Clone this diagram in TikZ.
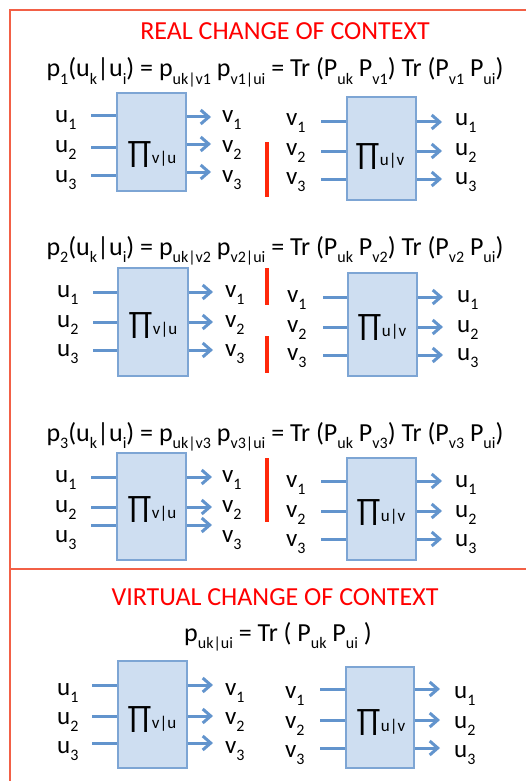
\documentclass[tikz,border=0pt]{standalone}
\usepackage{fontspec}
\setmainfont{Carlito}
\usetikzlibrary{arrows.meta}
\definecolor{framec}{RGB}{242,96,70}
\definecolor{barc}{RGB}{255,40,10}
\definecolor{titlec}{RGB}{255,0,0}
\definecolor{boxfill}{RGB}{206,222,241}
\definecolor{boxline}{RGB}{125,165,212}
\definecolor{wirec}{RGB}{98,148,205}
\newcommand\dn[1]{\raisebox{-0.3em}{\fontsize{16}{16}\selectfont #1}}
\newcommand\pisym[1]{{\fontsize{31}{31}\selectfont ∏}\raisebox{-0.05em}{\fontsize{17}{17}\selectfont #1}}
\newcommand\pbx[5]{\node[pbox, minimum width={(#4-#2)*1pt}, minimum height={(#5-#3)*1pt}] (#1) at ({(#2+#4)/2},{(#3+#5)/2}) {};}
\newcommand\wires[5]{%
  \foreach \yy [count=\k] in {#3} {\coordinate (#1in\k) at (#2,\yy); \draw[wire] (#1in\k) -- (#1in\k -| #1.west);}
  \foreach \yy [count=\k] in {#5} {\coordinate (#1out\k) at (#4,\yy); \draw[arr] (#1out\k -| #1.east) -- (#1out\k);}}
\newcommand\labs[6]{%
  \foreach \bb [count=\k] in {#6} {\node[lab] (#1a\k) at (#3,\bb) {#2\dn{\k}}; \node[lab] (#1b\k) at (#5,\bb) {#4\dn{\k}};}}
\begin{document}
\begin{tikzpicture}[x=1pt,y=-1pt,
 lab/.style={font=\fontsize{25}{29}\selectfont, inner sep=0pt, anchor=base west},
 eqn/.style={font=\fontsize{26}{30}\selectfont, inner sep=0pt, anchor=base},
 ttl/.style={font=\fontsize{26}{30}\selectfont, text=titlec, inner sep=0pt, anchor=base},
 pbox/.style={draw=boxline, fill=boxfill, line width=1.2pt, inner sep=0pt, rectangle},
 wire/.style={draw=wirec, line width=3pt},
 arr/.style={wire, -{Straight Barb[length=8pt,width=14pt]}},
 rbar/.style={draw=barc, line width=4pt},
 frame/.style={draw=framec, line width=1.3pt}]
\useasboundingbox (0,0) rectangle (526,781);
% frame
\coordinate (ftl) at (10,10); \coordinate (ftr) at (527,10); \coordinate (fbl) at (10,782);
\coordinate (sl) at (10,569); \coordinate (sr) at (527,569);
\draw[frame] (ftr) -- (ftl) -- (fbl);
\draw[frame] (sl) -- (sr);
% titles and equations
\node[ttl] (t1) at (285,40) {REAL CHANGE OF CONTEXT};
\node[eqn] (e1) at (275,77) {p\dn{1}(u\dn{k}|u\dn{i}) = p\dn{uk|v1} p\dn{v1|ui} = Tr (P\dn{uk} P\dn{v1}) Tr (P\dn{v1} P\dn{ui})};
\node[eqn] (e2) at (275,255) {p\dn{2}(u\dn{k}|u\dn{i}) = p\dn{uk|v2} p\dn{v2|ui} = Tr (P\dn{uk} P\dn{v2}) Tr (P\dn{v2} P\dn{ui})};
\node[eqn] (e3) at (275,441) {p\dn{3}(u\dn{k}|u\dn{i}) = p\dn{uk|v3} p\dn{v3|ui} = Tr (P\dn{uk} P\dn{v3}) Tr (P\dn{v3} P\dn{ui})};
\node[ttl] (t2) at (275,605) {VIRTUAL CHANGE OF CONTEXT};
\node[eqn] (e4) at (278,641) {p\dn{uk|ui} = Tr ( P\dn{uk} P\dn{ui} )};
% row 1
\pbx{L1}{117}{93}{186}{191}
\wires{L1}{91}{116,147,175}{211}{117,144,172}
\labs{L1}{u}{55}{v}{222}{122,152,182}
\node[lab] (L1pi) at (127,162) {\pisym{v|u}};
\pbx{R1}{347}{97}{416}{200}
\wires{R1}{321}{122,151,179}{442}{122,151,179}
\labs{R1}{v}{286}{u}{455}{125,155,184}
\node[lab] (R1pi) at (355,164) {\pisym{u|v}};
\coordinate (b1a) at (267,142); \coordinate (b1b) at (267,197);
\draw[rbar] (b1a) -- (b1b);
% row 2
\pbx{L2}{118}{268}{188}{376}
\wires{L2}{93}{292,322,350}{213}{292,322,350}
\labs{L2}{u}{57}{v}{225}{297,327,356}
\node[lab] (L2pi) at (128,333) {\pisym{v|u}};
\pbx{R2}{348}{273}{417}{376}
\wires{R2}{323}{297,327,355}{443}{297,327,355}
\labs{R2}{v}{287}{u}{457}{302,332,360}
\node[lab] (R2pi) at (357,335) {\pisym{u|v}};
\coordinate (b2a) at (267,268); \coordinate (b2b) at (267,305);
\coordinate (b2c) at (267,336); \coordinate (b2d) at (267,373);
\draw[rbar] (b2a) -- (b2b);
\draw[rbar] (b2c) -- (b2d);
% row 3
\pbx{L3}{117}{453}{186}{560}
\wires{L3}{91}{477,507,525}{212}{477,507,525}
\labs{L3}{u}{55}{v}{222}{482,512,542}
\node[lab] (L3pi) at (127,517) {\pisym{v|u}};
\pbx{R3}{347}{458}{416}{560}
\wires{R3}{321}{481,511,539}{442}{481,511,539}
\labs{R3}{v}{286}{u}{455}{487,517,546}
\node[lab] (R3pi) at (356,520) {\pisym{u|v}};
\coordinate (b3a) at (267,458); \coordinate (b3b) at (267,522);
\draw[rbar] (b3a) -- (b3b);
% virtual
\pbx{L4}{118}{661}{187}{768}
\wires{L4}{92}{685,716,743}{213}{685,716,743}
\labs{L4}{u}{57}{v}{225}{695,724,753}
\node[lab] (L4pi) at (127,727) {\pisym{v|u}};
\pbx{R4}{346}{667}{414}{768}
\wires{R4}{320}{689,720,748}{440}{689,720,748}
\labs{R4}{v}{285}{u}{454}{698,728,757}
\node[lab] (R4pi) at (356,730) {\pisym{u|v}};
\end{tikzpicture}
\end{document}
